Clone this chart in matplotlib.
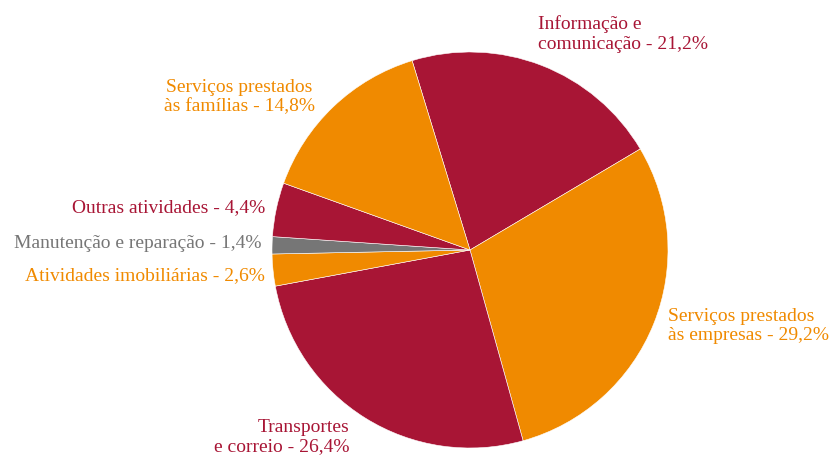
import matplotlib.pyplot as plt

# data (clockwise from the top)
labels = ["Informação e\ncomunicação", "Serviços prestados\nàs empresas", "Transportes\ne correio",
          "Atividades imobiliárias", "Manutenção e reparação", "Outras atividades",
          "Serviços prestados\nàs famílias"]
values = [21.2, 29.2, 26.4, 2.6, 1.4, 4.4, 14.8]

RED = "#A81535"
ORANGE = "#F08A00"
GREY = "#767676"
colors = [RED, ORANGE, RED, ORANGE, GREY, RED, ORANGE]

# label placement in pixels (x, y from top, ha)
label_pos = [(538, 34, "left"), (668, 326, "left"), (349, 437, "right"),
             (265, 276, "right"), (262, 244, "right"), (265, 208, "right"),
             (239, 97, "center")]

plt.rcParams["font.family"] = ["Liberation Serif", "DejaVu Serif"]

W, H = 831, 457
fig = plt.figure(figsize=(W / 100, H / 100), dpi=100)
ax = fig.add_axes([0, 0, 1, 1])

ax.pie(values, colors=colors, startangle=107, counterclock=False,
       center=(470, 207), radius=198, frame=True,
       wedgeprops=dict(linewidth=0.4, edgecolor="white"))
ax.set_xlim(0, W)
ax.set_ylim(0, H)
ax.set_aspect("equal")
ax.axis("off")

for lab, val, col, (x, y, ha) in zip(labels, values, colors, label_pos):
    txt = f"{lab} - {val:.1f}%".replace(".", ",")
    ax.text(x, H - y, txt, color=col, fontsize=14, ha=ha, va="center",
            multialignment=ha, linespacing=1.2)

fig.savefig("out.png", dpi=100)
